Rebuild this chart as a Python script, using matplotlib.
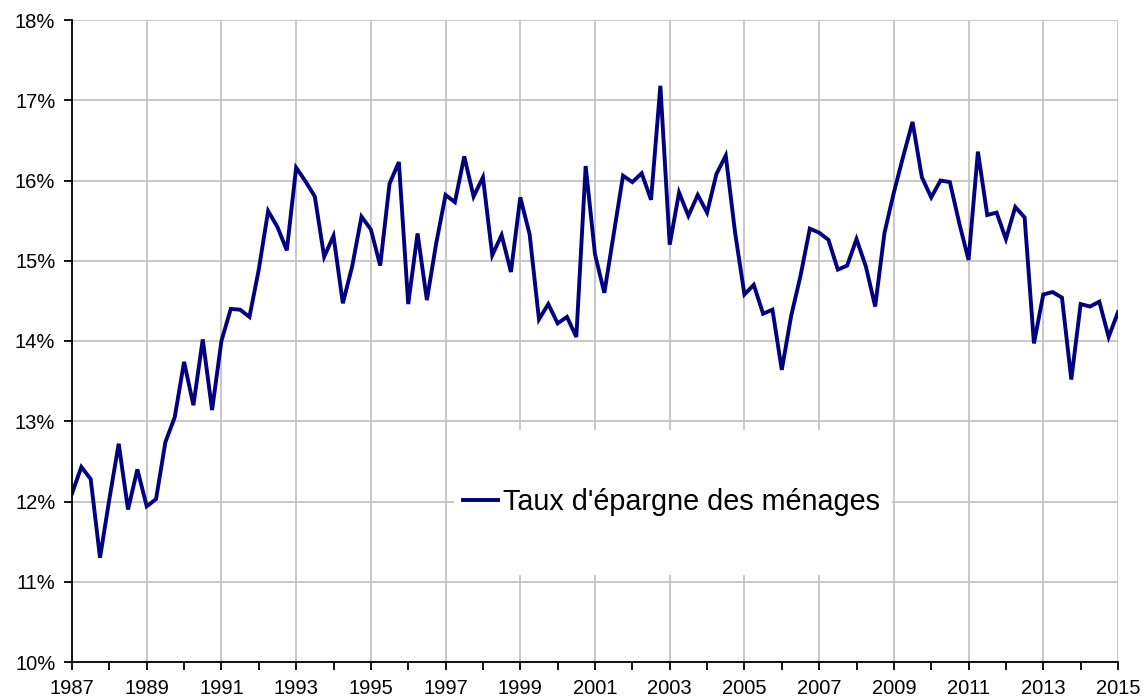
import matplotlib
matplotlib.use("Agg")
import matplotlib.pyplot as plt
from matplotlib.patches import Rectangle
from matplotlib.ticker import FuncFormatter, FixedLocator, MultipleLocator
import numpy as np

plt.rcParams['font.family'] = ['Liberation Sans', 'DejaVu Sans']

# quarterly household saving rate, 1987Q1 .. 2015Q1
taux = [
    12.10, 12.43, 12.28, 11.30,
    12.03, 12.72, 11.90, 12.40,
    11.94, 12.03, 12.74, 13.05,
    13.74, 13.20, 14.02, 13.14,
    14.00, 14.40, 14.39, 14.30,
    14.89, 15.62, 15.42, 15.13,
    16.16, 15.99, 15.80, 15.05,
    15.31, 14.47, 14.93, 15.55,
    15.39, 14.94, 15.96, 16.23,
    14.46, 15.34, 14.51, 15.22,
    15.82, 15.73, 16.30, 15.80,
    16.04, 15.07, 15.32, 14.86,
    15.79, 15.33, 14.27, 14.46,
    14.22, 14.30, 14.05, 16.18,
    15.08, 14.60, 15.33, 16.06,
    15.98, 16.09, 15.76, 17.18,
    15.20, 15.85, 15.56, 15.82,
    15.60, 16.08, 16.31, 15.35,
    14.58, 14.70, 14.34, 14.39,
    13.64, 14.31, 14.81, 15.40,
    15.35, 15.26, 14.89, 14.94,
    15.27, 14.93, 14.43, 15.35,
    15.85, 16.30, 16.73, 16.04,
    15.79, 16.00, 15.98, 15.47,
    15.01, 16.36, 15.57, 15.60,
    15.27, 15.67, 15.54, 13.97,
    14.58, 14.61, 14.54, 13.52,
    14.46, 14.43, 14.49, 14.05,
    14.36,
]
start_year = 1987
dates = start_year + np.arange(len(taux)) / 4.0
year_labels = list(range(1987, 2016, 2))
label = "Taux d'épargne des ménages"

fig = plt.figure(figsize=(11.45, 6.97), dpi=100)
ax = fig.add_axes([72 / 1145, 1 - 662 / 697, 1046 / 1145, 642 / 697])

ax.plot(dates, taux, color='#000080', linewidth=2.8, label=label, zorder=3,
        solid_joinstyle='miter')

ax.set_xlim(1987, 2015)
ax.set_ylim(10, 18)
ax.xaxis.set_major_locator(FixedLocator(year_labels))
ax.xaxis.set_minor_locator(MultipleLocator(1))
ax.yaxis.set_major_locator(MultipleLocator(1))
ax.xaxis.set_major_formatter(FuncFormatter(lambda v, p: '%d' % v))
ax.yaxis.set_major_formatter(FuncFormatter(lambda v, p: '%d%%' % v))

ax.grid(True, which='major', color='#c4c4c4', linewidth=1.3)
ax.set_axisbelow(True)

for s in ['top', 'right']:
    ax.spines[s].set_visible(False)
for s in ['left', 'bottom']:
    ax.spines[s].set_linewidth(1.3)
    ax.spines[s].set_zorder(4)

ax.tick_params(axis='both', which='both', direction='out', length=6, width=1.3,
               labelsize=14.5, colors='black')
ax.tick_params(axis='x', which='major', pad=6)
ax.tick_params(axis='y', which='major', pad=6)

# white box behind the legend hides the grid
ax.add_patch(Rectangle((0.365, 0.1355), 0.419, 0.2255, transform=ax.transAxes,
                       facecolor='white', edgecolor='none', zorder=1))

ax.legend(loc='center left', bbox_to_anchor=(0.374, 0.249), frameon=False,
          fontsize=20.7, handlelength=1.2, handletextpad=0.2, borderpad=0,
          borderaxespad=0)

fig.savefig('out.png', dpi=100)
